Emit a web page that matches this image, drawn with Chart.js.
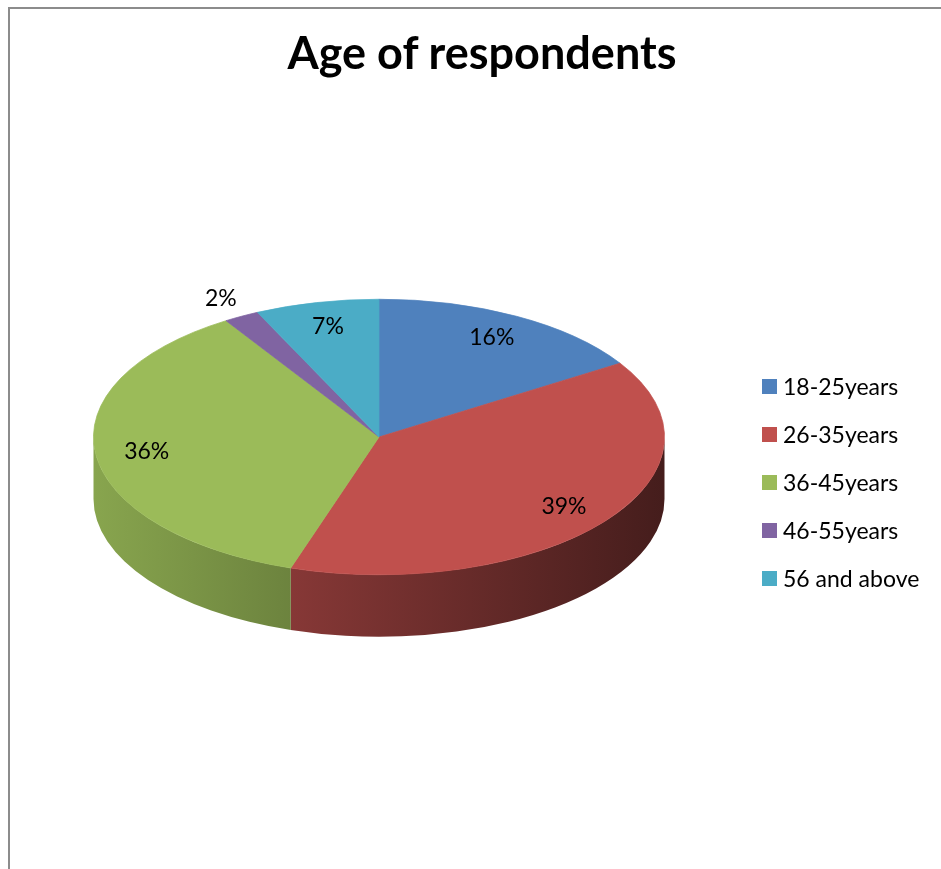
<!DOCTYPE html>
<html>
<head>
<meta charset="utf-8">
<script src="https://cdn.jsdelivr.net/npm/chart.js@4"></script>
<style>
  html, body { margin: 0; padding: 0; background: #fff; overflow: hidden; width: 941px; height: 869px; }
  #frame { position: absolute; left: 8px; top: 7px; width: 1000px; height: 900px;
           border-left: 2px solid #8c8c8c; border-top: 2px solid #8c8c8c; pointer-events: none; }
  #chart { position: absolute; left: 0; top: 0; }
  #title { position: absolute; left: 0; top: 25px; width: 964px; text-align: center;
           font-family: Lato, sans-serif; font-weight: bold; font-size: 45px; line-height: 54px; color: #000; }
  #legend { position: absolute; left: 762px; top: 362px; font-family: Lato, sans-serif; font-size: 23px; color: #000; }
  .item { height: 48px; display: flex; align-items: center; white-space: nowrap; }
  .box { width: 15px; height: 15px; margin-right: 6px; }
</style>
</head>
<body>
<canvas id="chart" width="964" height="869"></canvas>
<div id="frame"></div>
<div id="title"></div>
<div id="legend"></div>
<script>
var labels = ['18-25years', '26-35years', '36-45years', '46-55years', '56 and above'];
var percents = [16, 39, 36, 2, 7];
var colors = ['#4f81bd', '#c0504d', '#9bbb59', '#8064a2', '#4bacc6'];
var titleText = 'Age of respondents';

var tilt = 0.4825;   // vertical squash of the pie
var depth = 62;      // side wall height

function shade(hex, f) {
    var r = parseInt(hex.substr(1, 2), 16), g = parseInt(hex.substr(3, 2), 16), b = parseInt(hex.substr(5, 2), 16);
    return `rgb(${Math.round(r * f)}, ${Math.round(g * f)}, ${Math.round(b * f)})`;
}

// fake 3D: draw the side walls, then squash the top face
var pie3d = {
    id: 'pie3d',
    beforeDatasetsDraw(chart) {
        var arcs = chart.getDatasetMeta(0).data;
        var ctx = chart.ctx;
        var cx = arcs[0].x, cy = arcs[0].y, rx = arcs[0].outerRadius, ry = rx * tilt;
        ctx.save();
        arcs.forEach(function (arc, i) {
            var s = Math.max(arc.startAngle, 0), e = Math.min(arc.endAngle, Math.PI);
            if (e <= s) return;
            var grad = ctx.createLinearGradient(cx - rx, 0, cx + rx, 0);
            grad.addColorStop(0, shade(colors[i], 0.88));
            grad.addColorStop(1, shade(colors[i], 0.36));
            ctx.beginPath();
            ctx.ellipse(cx, cy, rx, ry, 0, s, e, false);
            ctx.ellipse(cx, cy + depth, rx, ry, 0, e, s, true);
            ctx.closePath();
            ctx.fillStyle = grad;
            ctx.fill();
        });
        ctx.restore();
        ctx.save();
        ctx.translate(cx, cy);
        ctx.scale(1, tilt);
        ctx.translate(-cx, -cy);
    },
    afterDatasetsDraw(chart) {
        var ctx = chart.ctx;
        ctx.restore();
        var arcs = chart.getDatasetMeta(0).data;
        var cx = arcs[0].x, cy = arcs[0].y, rx = arcs[0].outerRadius, ry = rx * tilt;
        ctx.save();
        ctx.font = '23px Lato';
        ctx.fillStyle = '#000';
        ctx.textAlign = 'center';
        ctx.textBaseline = 'middle';
        arcs.forEach(function (arc, i) {
            var mid = (arc.startAngle + arc.endAngle) / 2;
            var f = percents[i] < 5 ? 1.15 : 0.82;
            ctx.fillText(percents[i] + '%', cx + rx * f * Math.cos(mid), cy + ry * f * Math.sin(mid));
        });
        ctx.restore();
    }
};

var ctx = document.getElementById('chart').getContext('2d');
var pieChart = new Chart(ctx, {
    type: 'pie',
    data: {
        labels: labels,
        datasets: [{
            data: percents,
            backgroundColor: colors,
            borderColor: colors,
            borderWidth: 1,
            clip: false
        }]
    },
    options: {
        responsive: false,
        animation: false,
        layout: { padding: { left: 93, right: 299, top: 151, bottom: 146 } },
        plugins: {
            legend: { display: false },
            tooltip: { enabled: false },
            title: { display: false }
        }
    },
    plugins: [pie3d]
});

document.getElementById('title').textContent = titleText;

// html legend
var legend = document.getElementById('legend');
for (var i = 0; i < labels.length; i++) {
    var row = document.createElement('div');
    row.className = 'item';
    row.innerHTML = `<span class="box" style="background:${colors[i]}"></span><span>${labels[i]}</span>`;
    legend.appendChild(row);
}
</script>
</body>
</html>
